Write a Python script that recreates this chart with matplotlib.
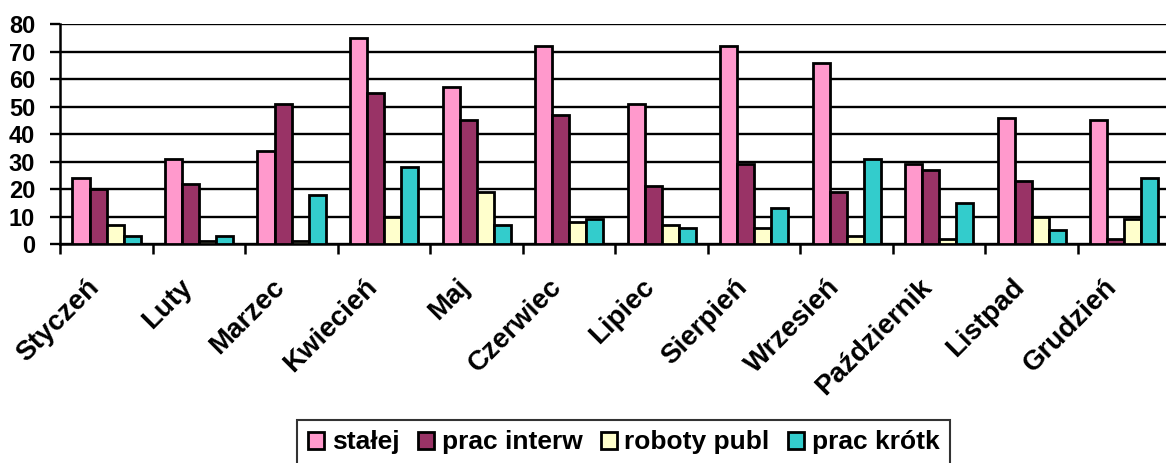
import matplotlib.pyplot as plt
import matplotlib.transforms as mtransforms
import numpy as np

plt.rcParams['font.family'] = ['Liberation Sans', 'DejaVu Sans']
plt.rcParams['font.weight'] = 'bold'

# months and counts per type of employment
months = ["Styczeń", "Luty", "Marzec", "Kwiecień", "Maj", "Czerwiec", "Lipiec",
          "Sierpień", "Wrzesień", "Październik", "Listpad", "Grudzień"]
stalej = [24, 31, 34, 75, 57, 72, 51, 72, 66, 29, 46, 45]
prac_interw = [20, 22, 51, 55, 45, 47, 21, 29, 19, 27, 23, 2]
roboty_publ = [7, 1, 1, 10, 19, 8, 7, 6, 3, 2, 10, 9]
prac_krotk = [3, 3, 18, 28, 7, 9, 6, 13, 31, 15, 5, 24]

series = [stalej, prac_interw, roboty_publ, prac_krotk]
names = ["stałej", "prac interw", "roboty publ", "prac krótk"]
colors = ["#FF99CC", "#993366", "#FFFFCC", "#33CCCC"]

fig = plt.figure(figsize=(11.66, 4.63), dpi=100)
# plot area runs a little past the right edge of the figure
ax = fig.add_axes([0.0517, 0.473, 0.952, 0.475])

x = np.arange(len(months))
w = 0.184
for i, (vals, name, c) in enumerate(zip(series, names, colors)):
    ax.bar(x + (i - 1.5) * w, vals, w, color=c, edgecolor='black',
           linewidth=2, label=name, zorder=3)

ax.set_xlim(-0.5, len(months) - 0.5)
ax.set_ylim(0, 80)
ax.set_yticks(range(0, 81, 10))
ax.yaxis.grid(True, color='black', linewidth=1.7, zorder=0)
ax.set_axisbelow(True)

# ticks between categories, month names drawn under the centres
ax.set_xticks(np.arange(-0.5, len(months), 1))
ax.set_xticklabels([])
ax.tick_params(axis='x', length=7.2, width=1.8, direction='out')
ax.tick_params(axis='y', length=7.2, width=1.7, labelsize=17, pad=11)
for lbl in ax.get_yticklabels():
    lbl.set_fontweight('bold')

offset = mtransforms.ScaledTranslation(-20 / 100, -30 / 100, fig.dpi_scale_trans)
for xi, m in zip(x, months):
    ax.text(xi, 0, m, transform=ax.get_xaxis_transform() + offset,
            rotation=45, ha='right', va='top', rotation_mode='anchor',
            fontsize=20, fontweight='bold', clip_on=False)

for s in ['top', 'right']:
    ax.spines[s].set_visible(False)
ax.spines['left'].set_linewidth(1.8)
ax.spines['bottom'].set_linewidth(1.8)

leg = fig.legend(loc='upper center', bbox_to_anchor=(0.535, 0.093), ncol=4,
                 fontsize=19, frameon=True, fancybox=False, edgecolor='black',
                 handlelength=0.6, handleheight=0.6, handletextpad=0.3,
                 columnspacing=0.7, borderpad=0.4, borderaxespad=0)
leg.get_frame().set_linewidth(1.5)
for t in leg.get_texts():
    t.set_fontweight('bold')

fig.savefig("out.png", dpi=100)
